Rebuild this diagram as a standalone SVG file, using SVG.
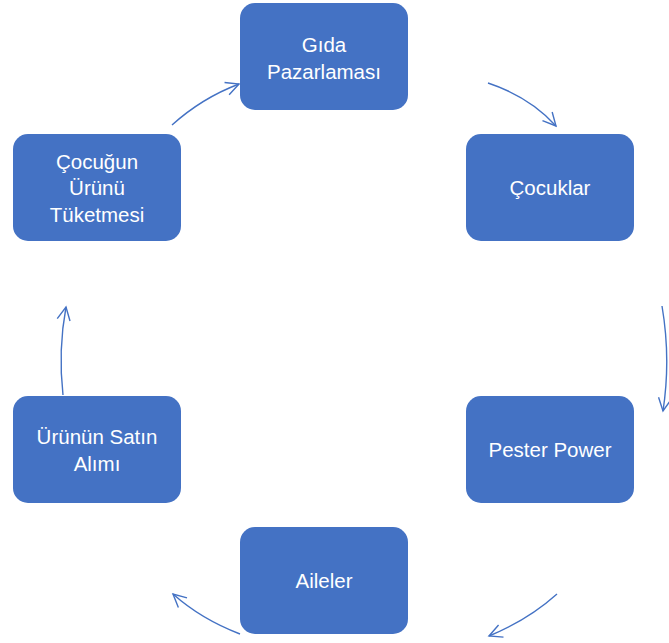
<svg xmlns="http://www.w3.org/2000/svg" width="669" height="643" viewBox="0 0 669 643">
<defs>
<style>
.box{fill:#4472C4;}
.lbl{fill:#ffffff;font-family:"Liberation Sans",Arial,sans-serif;font-size:20.5px;text-anchor:middle;dominant-baseline:central;}
.conn{fill:none;stroke:#4472C4;stroke-width:1.4;marker-end:url(#ah);}
</style>
<marker id="ah" markerUnits="userSpaceOnUse" markerWidth="16" markerHeight="16" viewBox="0 0 16 16" refX="14" refY="8" orient="auto">
<path d="M1,1.5 L14,8 L1,14.5" fill="none" stroke="#4472C4" stroke-width="1.4"/>
</marker>
</defs>
<rect width="669" height="643" fill="#ffffff"/>
<g id="connectors">
<path class="conn" d="M488,83 Q530,97 556,126"/>
<path class="conn" d="M662,306 Q671,359 663,411"/>
<path class="conn" d="M557,594 Q528,620 489,636"/>
<path class="conn" d="M240,634 Q201,619 173,594"/>
<path class="conn" d="M63,395 Q58,350 66,307"/>
<path class="conn" d="M172,125 Q202,98 239,84"/>
</g>
<g id="n1"><rect class="box" x="240" y="3" width="168" height="107" rx="15"/><text class="lbl" x="324" y="44">Gıda</text><text class="lbl" x="324" y="71">Pazarlaması</text></g>
<g id="n2"><rect class="box" x="466" y="134" width="168" height="107" rx="15"/><text class="lbl" x="550" y="187">Çocuklar</text></g>
<g id="n3"><rect class="box" x="466" y="396" width="168" height="107" rx="15"/><text class="lbl" x="550" y="449">Pester Power</text></g>
<g id="n4"><rect class="box" x="240" y="527" width="168" height="107" rx="15"/><text class="lbl" x="324" y="580">Aileler</text></g>
<g id="n5"><rect class="box" x="13" y="396" width="168" height="107" rx="15"/><text class="lbl" x="97" y="436">Ürünün Satın</text><text class="lbl" x="97" y="463">Alımı</text></g>
<g id="n6"><rect class="box" x="13" y="134" width="168" height="107" rx="15"/><text class="lbl" x="97" y="161">Çocuğun</text><text class="lbl" x="97" y="187">Ürünü</text><text class="lbl" x="97" y="214">Tüketmesi</text></g>
</svg>
